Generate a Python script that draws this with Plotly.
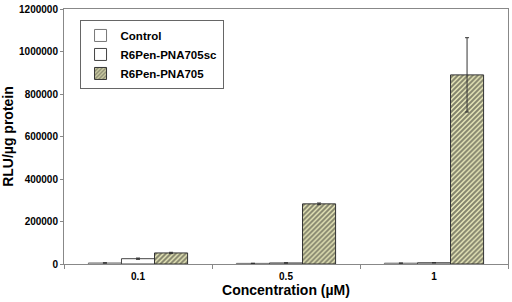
import plotly.graph_objects as go

categories = ["0.1", "0.5", "1"]
control = [5000, 3000, 4000]
control_err = [1000, 500, 500]
sc = [25000, 5000, 6000]
sc_err = [3000, 800, 800]
pna705 = [52000, 283000, 890000]
pna705_err = [3000, 4000, 175000]
yticks = [0, 200000, 400000, 600000, 800000, 1000000, 1200000]

fig = go.Figure()
errstyle = dict(type="data", thickness=1, width=2, color="#333333")
fig.add_trace(go.Bar(name="Control", x=categories, y=control,
                     error_y=dict(array=control_err, **errstyle),
                     marker=dict(color="white", line=dict(color="#777777", width=1))))
fig.add_trace(go.Bar(name="R6Pen-PNA705sc", x=categories, y=sc,
                     error_y=dict(array=sc_err, **errstyle),
                     marker=dict(color="white", line=dict(color="#444444", width=1))))
fig.add_trace(go.Bar(name="R6Pen-PNA705", x=categories, y=pna705,
                     error_y=dict(array=pna705_err, **errstyle),
                     marker=dict(color="#eeeec0", line=dict(color="#333333", width=1),
                                 pattern=dict(shape="/", fgcolor="#1a1a1a", bgcolor="#eeeebe",
                                              size=3.5, solidity=0.6, fillmode="overlay"))))

fig.update_layout(
    width=512, height=302,
    margin=dict(l=64, r=3, t=6, b=38),
    paper_bgcolor="white", plot_bgcolor="white",
    barmode="group", bargap=0.33, bargroupgap=0,
    font=dict(family="Liberation Sans, Arial, sans-serif", color="black"),
    showlegend=True,
    legend=dict(x=0.035, y=0.957, xanchor="left", yanchor="top",
                bordercolor="#666666", borderwidth=1, bgcolor="white",
                font=dict(size=11.5, family="Liberation Sans, Arial", weight="bold"),
                tracegroupgap=0, itemwidth=30),
)
fig.update_xaxes(
    type="category", showline=True, linecolor="#888888", linewidth=1, mirror=True,
    ticks="outside", tickson="boundaries", ticklen=4, tickcolor="#888888",
    tickfont=dict(size=10, weight="bold"), ticklabelstandoff=3,
    title=dict(text="Concentration (µM)", font=dict(size=14, weight="bold"), standoff=0),
)
fig.update_yaxes(
    range=[0, 1200000], tickvals=yticks, ticktext=[str(v) for v in yticks],
    showline=True, linecolor="#888888", linewidth=1, mirror=True,
    ticks="outside", ticklen=3, tickcolor="#888888", showgrid=False, zeroline=False,
    tickfont=dict(size=10, weight="bold"),
    title=dict(text="RLU/µg protein", font=dict(size=14, weight="bold"), standoff=3),
)
fig.write_html("out.html", config={"displayModeBar": False},
               post_script="document.body.style.margin='0';")
